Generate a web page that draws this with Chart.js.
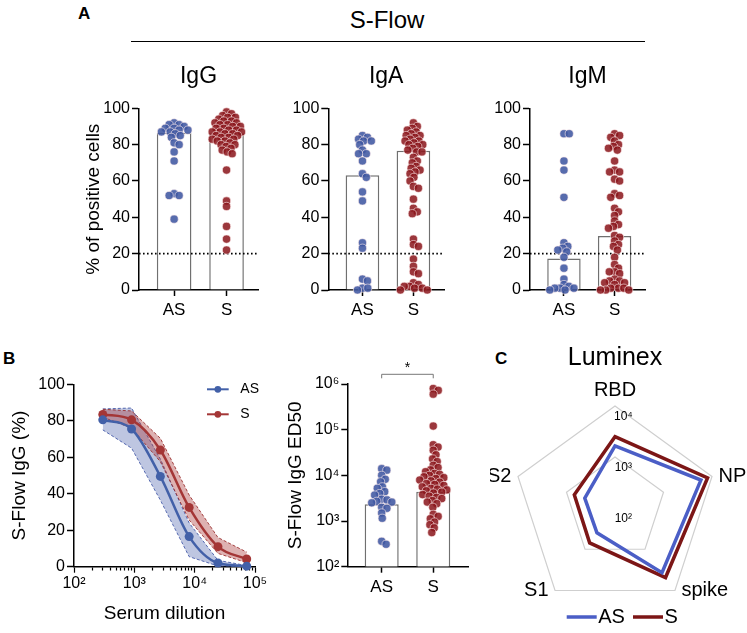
<!DOCTYPE html>
<html>
<head>
<meta charset="utf-8">
<script src="https://cdn.jsdelivr.net/npm/chart.js@4.4.1/dist/chart.umd.min.js"></script>
<style>
  body { margin: 0; background: #fff; }
  #fig { position: relative; width: 747px; height: 633px; overflow: hidden; font-family: 'Liberation Sans', Arial, sans-serif; color: #000; }
  #fig canvas { position: absolute; }
  .tag { position: absolute; font-weight: bold; font-size: 17px; line-height: 17px; }
  .head { position: absolute; left: 237px; top: 8px; width: 300px; text-align: center; font-size: 24px; line-height: 24px; }
  .rule { position: absolute; left: 131px; top: 41px; width: 514px; height: 0; border-top: 1.5px solid #000; }
</style>
</head>
<body>
<div id="fig">
  <div class="tag" style="left:78px;top:5px">A</div>
  <div class="head">S-Flow</div>
  <div class="rule"></div>
  <canvas id="igg" width="270" height="280" style="left:0;top:50px"></canvas>
  <canvas id="iga" width="190" height="280" style="left:270px;top:50px"></canvas>
  <canvas id="igm" width="190" height="280" style="left:470px;top:50px"></canvas>
  <div class="tag" style="left:3px;top:350px">B</div>
  <canvas id="curve" width="280" height="293" style="left:0;top:340px"></canvas>
  <canvas id="ed50" width="200" height="293" style="left:280px;top:340px"></canvas>
  <div class="tag" style="left:495px;top:350px">C</div>
  <canvas id="lumi" width="257" height="293" style="left:490px;top:340px"></canvas>
</div>
<script>
// ---- data ----
const GROUPS = ['AS', 'S'];
const CUTOFF = 20;

const IGG_AS = [92, 91, 91, 90, 89, 89, 88, 88, 87, 87, 86, 85, 84, 81, 80, 76, 71, 53, 52, 52, 39];
const IGG_S = [98, 97, 96, 95, 95, 94, 93, 93, 92, 92, 91, 91, 90, 90, 89, 89, 88, 88, 87, 87, 87, 86, 86, 85, 85,
  84, 84, 83, 83, 82, 82, 81, 80, 80, 79, 78, 77, 76, 75, 66, 49, 46, 35, 28, 22];
const IGG_MEDIAN = [86.6, 86.2];

const IGA_AS = [85, 84, 83, 82, 82, 80, 77, 75, 75, 71, 64, 62, 54, 49, 26, 23, 6, 5, 1, 1, 0];
const IGA_S = [92, 90, 89, 88, 87, 86, 85, 85, 84, 83, 82, 82, 81, 80, 80, 79, 78, 77, 76, 76, 73, 71, 70, 68, 67,
  66, 65, 64, 62, 60, 57, 56, 50, 45, 43, 42, 28, 25, 24, 17, 13, 10, 9, 4, 3, 2, 2, 1, 1, 0, 0];
const IGA_MEDIAN = [63.2, 76.6];

const IGM_AS = [86, 86, 71, 66, 51, 26, 24, 23, 22, 21, 18, 12, 6, 3, 2, 1, 1, 1, 0, 0];
const IGM_S = [86, 85, 84, 82, 80, 79, 78, 77, 71, 66, 65, 65, 61, 60, 53, 52, 51, 45, 43, 41, 38, 36, 35, 34, 30,
  29, 27, 25, 24, 22, 18, 14, 12, 10, 10, 9, 6, 5, 5, 4, 4, 3, 1, 1, 1, 0, 0, 0];
const IGM_MEDIAN = [17.4, 29.7];

const ED50_AS = [14000, 13000, 10000, 8200, 7200, 5600, 5200, 4400, 4000, 3700, 3000, 2900, 2700, 2600, 2500,
  2000, 1900, 1500, 1150, 360, 310];
const ED50_S = [794000, 724000, 600000, 120000, 46800, 41700, 35500, 28200, 22900, 20000, 16600, 14800, 13200,
  12000, 11000, 10500, 10000, 9300, 8900, 8500, 7900, 7600, 7100, 6600, 6300, 6000, 5600, 5200, 5000, 4800, 4600,
  4300, 4100, 3800, 3500, 3300, 3100, 2800, 2600, 2400, 2000, 1400, 1260, 1120, 950, 830, 710, 560];
const ED50_MEDIAN = [2340, 4370];
const ED50_TICKS = [1e2, 1e3, 1e4, 1e5, 1e6];

const DILUTIONS = [300, 900, 2700, 8100, 24300, 72900];
const CURVE_AS = [80.5, 75.5, 49.5, 16.5, 2, 0.3];
const CURVE_S = [83.5, 80.5, 64, 32.5, 11, 4.2];
const BAND_AS_HI = [86.5, 87, 59, 24, 3.5, 0.6];
const BAND_AS_LO = [75, 65, 36.5, 5.5, 0.4, 0];
const BAND_S_HI = [86.3, 85.4, 70.4, 39.3, 16, 8];
const BAND_S_LO = [82, 76, 57.6, 25.6, 7.3, 2.2];
const DILUTION_DECADES = [1e2, 1e3, 1e4, 1e5];

const LUMINEX_TARGETS = ['RBD', 'NP', 'spike', 'S1', 'S2'];
const LUMINEX_AS = [1650, 5900, 3700, 400, 420];
const LUMINEX_S = [2500, 8100, 4850, 700, 690];
const LUMINEX_TICKS = [100, 1000, 10000];

// ---- style ----
const FONT = "'Liberation Sans', Arial, Helvetica, sans-serif";
Chart.defaults.font.family = FONT;
Chart.defaults.color = '#000';
Chart.defaults.animation = false;
Chart.defaults.plugins.legend.display = false;
Chart.defaults.plugins.tooltip.enabled = false;

const AS_DOT = 'rgba(64, 88, 162, 0.88)';
const S_DOT = 'rgba(138, 22, 28, 0.86)';
const DOT_EDGE = 'rgba(255, 236, 236, 0.75)';
const AS_LINE = '#4260a8';
const S_LINE = '#a43636';
const SWARM_GAP = 5.3;
const SUP = {2: '\u00b2', 3: '\u00b3', 4: '\u2074', 5: '\u2075', 6: '\u2076'};

function pow10Label(v) {
  const e = Math.log10(v);
  return Math.abs(e - Math.round(e)) < 1e-9 ? '10' + SUP[Math.round(e)] : '';
}

// simple beeswarm in pixel space, returns x offsets (px)
function beeswarm(py, gap) {
  const order = py.map((_, i) => i).sort((a, b) => py[a] - py[b]);
  const placed = [];
  const xs = new Array(py.length).fill(0);
  order.forEach(i => {
    const y = py[i];
    const near = placed.filter(p => Math.abs(p.y - y) < gap);
    const cands = [0];
    near.forEach(p => {
      const dx = Math.sqrt(gap * gap - (p.y - y) ** 2);
      cands.push(p.x + dx, p.x - dx);
    });
    cands.sort((a, b) => Math.abs(a) - Math.abs(b));
    const x = cands.find(c => near.every(p => (p.x - c) ** 2 + (p.y - y) ** 2 >= gap * gap - 0.01));
    xs[i] = x === undefined ? 0 : x;
    placed.push({x: xs[i], y});
  });
  return xs;
}

// once the scales exist, spread the dots of each group sideways
function spreadDots(chart) {
  const xs = chart.scales.x, ys = chart.scales.y;
  const unit = xs.getPixelForValue(1) - xs.getPixelForValue(0);
  chart.data.datasets.forEach(ds => {
    if (!ds.swarm) return;
    const off = beeswarm(ds.swarm.values.map(v => ys.getPixelForValue(v)), SWARM_GAP);
    ds.data = ds.swarm.values.map((v, i) => ({x: ds.swarm.cat + off[i] / unit, y: v}));
  });
  chart.update('none');
}

const lineLegend = {
  id: 'lineLegend',
  afterDraw(chart, args, opts) {
    if (!opts.items) return;
    const ctx = chart.ctx;
    ctx.save();
    ctx.font = opts.font;
    ctx.textBaseline = 'middle';
    ctx.textAlign = 'left';
    opts.items.forEach(it => {
      const ds = chart.data.datasets[it.dataset];
      ctx.strokeStyle = ds.borderColor;
      ctx.lineWidth = opts.lineWidth;
      ctx.beginPath();
      ctx.moveTo(it.x, it.y);
      ctx.lineTo(it.x + opts.lineLength, it.y);
      ctx.stroke();
      if (opts.dot) {
        ctx.fillStyle = ds.borderColor;
        ctx.beginPath();
        ctx.arc(it.x + opts.lineLength / 2, it.y, opts.dot, 0, Math.PI * 2);
        ctx.fill();
      }
      ctx.fillStyle = '#000';
      ctx.fillText(ds.label, it.x + opts.lineLength + opts.gap, it.y);
    });
    ctx.restore();
  }
};

const sigBracket = {
  id: 'sigBracket',
  afterDraw(chart, args, opts) {
    const {ctx, chartArea, scales: {x}} = chart;
    const x0 = x.getPixelForValue(0), x1 = x.getPixelForValue(1);
    const y = chartArea.top - opts.lift;
    ctx.save();
    ctx.strokeStyle = '#777';
    ctx.lineWidth = 1;
    ctx.beginPath();
    ctx.moveTo(x0, y + opts.drop);
    ctx.lineTo(x0, y);
    ctx.lineTo(x1, y);
    ctx.lineTo(x1, y + opts.drop);
    ctx.stroke();
    ctx.fillStyle = '#000';
    ctx.font = opts.font;
    ctx.textAlign = 'center';
    ctx.textBaseline = 'middle';
    ctx.fillText(opts.text, (x0 + x1) / 2, y - opts.textGap);
    ctx.restore();
  }
};

const radarLabels = {
  id: 'radarLabels',
  afterDraw(chart, args, opts) {
    const r = chart.scales.r, ctx = chart.ctx;
    ctx.save();
    ctx.font = opts.font;
    ctx.fillStyle = '#000';
    ctx.textBaseline = 'middle';
    chart.data.labels.forEach((lab, i) => {
      const p = r.getPointPosition(i, r.drawingArea);
      const dx = p.x - r.xCenter;
      if (Math.abs(dx) < 1) {
        ctx.textAlign = 'center';
        ctx.fillText(lab, p.x, p.y - opts.top);
      } else if (dx > 0) {
        ctx.textAlign = 'left';
        ctx.fillText(lab, p.x + opts.side, p.y);
      } else {
        ctx.textAlign = 'right';
        ctx.fillText(lab, p.x - opts.side, p.y);
      }
    });
    ctx.restore();
  }
};

function groupAxis(height, xMin, xMax) {
  return {
    type: 'linear', min: xMin, max: xMax, offset: false,
    afterBuildTicks: s => { s.ticks = GROUPS.map((g, i) => ({value: i})); },
    afterFit: s => { s.height = height; },
    ticks: { autoSkip: false, maxRotation: 0, padding: 4, font: {size: 17}, callback: v => GROUPS[v] },
    grid: { offset: false, drawOnChartArea: false, tickLength: 6, tickWidth: 1.5, tickColor: '#000' },
    border: { color: '#000', width: 1.5 }
  };
}

function valueAxis(width, extra) {
  return Object.assign({
    afterFit: s => { s.width = width; },
    grid: { drawOnChartArea: false, tickLength: 7, tickWidth: 1.5, tickColor: '#000' },
    border: { color: '#000', width: 1.5 }
  }, extra);
}

function dotSet(label, cat, values, color) {
  return {
    type: 'scatter', label, swarm: {cat, values},
    data: values.map(v => ({x: cat, y: v})),
    pointRadius: 4.1, pointBorderWidth: 0.8,
    pointBackgroundColor: color, pointBorderColor: DOT_EDGE,
    backgroundColor: color, borderColor: DOT_EDGE,
    clip: false, order: 0
  };
}

function stripChart(id, cfg) {
  const datasets = [
    dotSet('AS', 0, cfg.as, AS_DOT),
    dotSet('S', 1, cfg.s, S_DOT),
    {
      type: 'bar', label: 'median',
      data: cfg.bars.map((v, i) => ({x: i, y: v})),
      backgroundColor: '#fff', borderColor: '#707070', borderWidth: 1.5,
      barPercentage: 0.66, categoryPercentage: 1, order: 2
    }
  ];
  if (cfg.cutoff !== undefined) {
    datasets.push({
      type: 'line', label: 'cutoff',
      data: [{x: cfg.xMin, y: cfg.cutoff}, {x: cfg.xMax, y: cfg.cutoff}],
      borderColor: '#000', borderWidth: 1.6, borderDash: [1.6, 2.4], pointRadius: 0, order: 1
    });
  }
  const chart = new Chart(document.getElementById(id), {
    type: 'bar',
    data: { datasets },
    options: {
      responsive: false,
      layout: { padding: cfg.padding },
      plugins: {
        title: cfg.title ? {
          display: true, text: cfg.title, fullSize: false,
          font: {size: 23, weight: 'normal'}, padding: {top: 13, bottom: 17.7}
        } : {display: false},
        sigBracket: cfg.sig || {}
      },
      scales: { x: groupAxis(cfg.xHeight, cfg.xMin, cfg.xMax), y: cfg.y }
    },
    plugins: cfg.sig ? [sigBracket] : []
  });
  spreadDots(chart);
  return chart;
}

function pctAxis(width, title, titlePad) {
  return valueAxis(width, {
    min: 0, max: 100,
    ticks: { stepSize: 20, font: {size: 16}, padding: 2 },
    title: { display: !!title, text: title, font: {size: 19}, padding: {top: titlePad || 0, bottom: 0} }
  });
}

// ---- panel A ----
const A_MIN = -0.67, A_MAX = 1.6;
stripChart('igg', { title: 'IgG', as: IGG_AS, s: IGG_S, bars: IGG_MEDIAN, cutoff: CUTOFF,
  xMin: A_MIN, xMax: A_MAX, xHeight: 40, padding: {right: 12},
  y: pctAxis(139, '% of positive cells', 81.9) });
stripChart('iga', { title: 'IgA', as: IGA_AS, s: IGA_S, bars: IGA_MEDIAN, cutoff: CUTOFF,
  xMin: A_MIN, xMax: A_MAX, xHeight: 40, padding: {right: 16},
  y: pctAxis(58.3) });
stripChart('igm', { title: 'IgM', as: IGM_AS, s: IGM_S, bars: IGM_MEDIAN, cutoff: CUTOFF,
  xMin: A_MIN, xMax: A_MAX, xHeight: 40, padding: {right: 15},
  y: pctAxis(60) });

// ---- panel B, ED50 ----
stripChart('ed50', { as: ED50_AS, s: ED50_S, bars: ED50_MEDIAN,
  xMin: -0.667, xMax: 1.68, xHeight: 66.3, padding: {top: 44, right: 11.7},
  sig: { text: '*', lift: 9.7, drop: 4, textGap: 6, font: '14px ' + FONT },
  y: valueAxis(67.3, {
    type: 'logarithmic', min: ED50_TICKS[0], max: ED50_TICKS[ED50_TICKS.length - 1],
    afterBuildTicks: s => { s.ticks = ED50_TICKS.map(v => ({value: v, major: true})); },
    ticks: { autoSkip: false, font: {size: 16}, padding: 2, callback: pow10Label },
    grid: { drawOnChartArea: false, tickLength: 6, tickWidth: 1.5, tickColor: '#000' },
    title: { display: true, text: 'S-Flow IgG ED50', font: {size: 19}, padding: {top: 3.9, bottom: 0} }
  })
});

// ---- panel B, dilution curves ----
function curveSet(label, values, color) {
  return {
    label, data: DILUTIONS.map((d, i) => ({x: d, y: values[i]})),
    borderColor: color, backgroundColor: color, borderWidth: 2.5,
    pointRadius: 4.5, pointBorderWidth: 0, pointBackgroundColor: color,
    cubicInterpolationMode: 'monotone', fill: false, clip: false, order: 0
  };
}
function bandSet(label, values, fillColor, edgeColor, fill, order) {
  return {
    label, data: DILUTIONS.map((d, i) => ({x: d, y: values[i]})),
    borderColor: edgeColor, backgroundColor: fillColor, borderWidth: 1, borderDash: [3, 2],
    pointRadius: 0, tension: 0, fill, order
  };
}

new Chart(document.getElementById('curve'), {
  type: 'line',
  data: {
    datasets: [
      curveSet('AS', CURVE_AS, AS_LINE),
      curveSet('S', CURVE_S, S_LINE),
      bandSet('AS upper', BAND_AS_HI, 'rgba(74, 96, 172, 0.36)', 'rgba(60, 82, 165, 0.85)', '+1', 2),
      bandSet('AS lower', BAND_AS_LO, 'rgba(74, 96, 172, 0.36)', 'rgba(60, 82, 165, 0.85)', false, 2),
      bandSet('S upper', BAND_S_HI, 'rgba(168, 52, 52, 0.38)', 'rgba(150, 40, 40, 0.85)', '+1', 1),
      bandSet('S lower', BAND_S_LO, 'rgba(168, 52, 52, 0.38)', 'rgba(150, 40, 40, 0.85)', false, 1)
    ]
  },
  options: {
    responsive: false,
    layout: { padding: {top: 44.3, right: 25} },
    plugins: {
      lineLegend: {
        items: [{dataset: 0, x: 207, y: 49.3}, {dataset: 1, x: 207, y: 74.3}],
        lineLength: 21.7, lineWidth: 2, dot: 3.4, gap: 11.6, font: '14px ' + FONT
      }
    },
    scales: {
      x: {
        type: 'logarithmic', min: DILUTION_DECADES[0], max: DILUTION_DECADES[DILUTION_DECADES.length - 1],
        afterBuildTicks: s => {
          const t = [];
          DILUTION_DECADES.slice(0, -1).forEach(d => {
            for (let k = 1; k < 10; k++) t.push({value: k * d, major: k === 1});
          });
          t.push({value: DILUTION_DECADES[DILUTION_DECADES.length - 1], major: true});
          s.ticks = t;
        },
        afterFit: s => { s.height = 66.3; },
        ticks: { autoSkip: false, maxRotation: 0, font: {size: 16}, padding: 1, callback: pow10Label },
        grid: {
          drawOnChartArea: false, tickLength: 6, tickWidth: 1.2, tickColor: '#000',
          tickBorderDash: c => (c.tick && c.tick.major) ? [] : [3, 10]
        },
        border: { color: '#000', width: 1.5 },
        title: { display: true, text: 'Serum dilution', font: {size: 19}, padding: {top: 0, bottom: 7.6} }
      },
      y: pctAxis(74, 'S-Flow IgG (%)', 8.6)
    }
  },
  plugins: [lineLegend]
});

// ---- panel C, Luminex radar (log10 values on a linear radial scale) ----
new Chart(document.getElementById('lumi'), {
  type: 'radar',
  data: {
    labels: LUMINEX_TARGETS,
    datasets: [
      { label: 'AS', data: LUMINEX_AS.map(Math.log10), borderColor: '#4b5ec6', backgroundColor: 'rgba(0,0,0,0)',
        borderWidth: 3.5, borderJoinStyle: 'miter', pointRadius: 0, fill: false },
      { label: 'S', data: LUMINEX_S.map(Math.log10), borderColor: '#7c1616', backgroundColor: 'rgba(0,0,0,0)',
        borderWidth: 3.5, borderJoinStyle: 'miter', pointRadius: 0, fill: false }
    ]
  },
  options: {
    responsive: false,
    layout: { padding: {left: 15, right: 22, top: 0, bottom: 15} },
    plugins: {
      title: { display: true, text: 'Luminex', font: {size: 25, weight: 'normal', lineHeight: 1},
        padding: {top: 5.5, bottom: 27.5} },
      radarLabels: { font: '20px ' + FONT, top: 16, side: 6.5 },
      lineLegend: {
        items: [{dataset: 0, x: 76.7, y: 277}, {dataset: 1, x: 143, y: 277}],
        lineLength: 30, lineWidth: 3.5, gap: 1.5, font: '20px ' + FONT
      }
    },
    scales: {
      r: {
        min: Math.log10(LUMINEX_TICKS[0]), max: Math.log10(LUMINEX_TICKS[LUMINEX_TICKS.length - 1]),
        // first tick label is never drawn by Chart.js, so the centre tick is listed twice
        afterBuildTicks: s => { s.ticks = [LUMINEX_TICKS[0], ...LUMINEX_TICKS].map(v => ({value: Math.log10(v)})); },
        ticks: {
          showLabelBackdrop: false, font: {size: 12, lineHeight: 0.85},
          callback: v => ['', '     ' + pow10Label(Math.pow(10, v))]
        },
        grid: {
          color: c => (c.tick && c.tick.value === Math.log10(LUMINEX_TICKS[0])) ? 'rgba(0,0,0,0)' : '#cfcfcf',
          lineWidth: 1.2
        },
        angleLines: { display: false },
        pointLabels: { display: false }
      }
    }
  },
  plugins: [radarLabels, lineLegend]
});
</script>
</body>
</html>
